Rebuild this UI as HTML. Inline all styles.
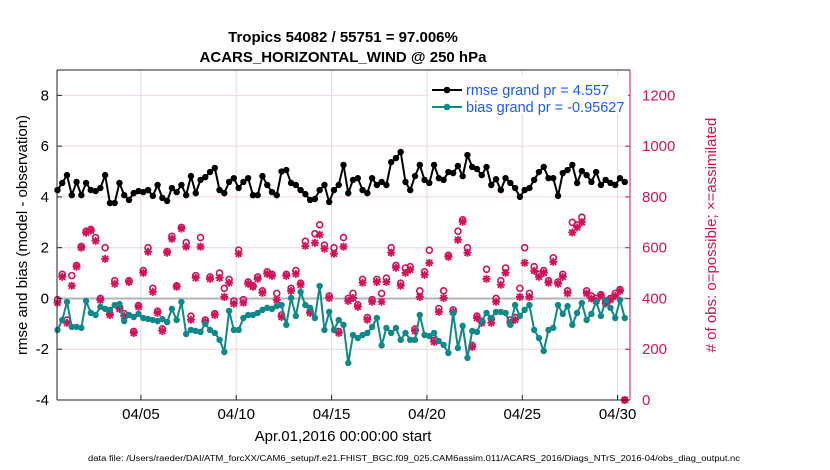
<!DOCTYPE html>
<html><head><meta charset="utf-8">
<style>
body{margin:0;background:#fff;}
svg{display:block;font-family:"Liberation Sans",sans-serif;}
</style></head>
<body>
<svg id="chart" width="830" height="470" xmlns="http://www.w3.org/2000/svg">
<rect width="830" height="470" fill="#fff"/>
<g id="grid"></g>
<g id="series"></g>
<g id="axes"></g>
<text x="343" y="42" text-anchor="middle" font-size="15" font-weight="bold">Tropics 54082 / 55751 = 97.006%</text>
<text x="343" y="62" text-anchor="middle" font-size="15" font-weight="bold">ACARS_HORIZONTAL_WIND @ 250 hPa</text>
<text transform="translate(27,235) rotate(-90)" text-anchor="middle" font-size="15">rmse and bias (model - observation)</text>
<text transform="translate(716,235) rotate(-90)" text-anchor="middle" font-size="15" fill="#d1125a"># of obs: o=possible; ×=assimilated</text>
<text x="343" y="441" text-anchor="middle" font-size="15">Apr.01,2016 00:00:00 start</text>
<text x="414" y="461" text-anchor="middle" font-size="8" textLength="652" lengthAdjust="spacingAndGlyphs">data file: /Users/raeder/DAI/ATM_forcXX/CAM6_setup/f.e21.FHIST_BGC.f09_025.CAM6assim.011/ACARS_2016/Diags_NTrS_2016-04/obs_diag_output.nc</text>
<g>
<rect x="428" y="76" width="200" height="38" fill="#fff"/>
<g>
<line x1="432" y1="90" x2="462" y2="90" stroke="#000" stroke-width="2"/>
<circle cx="447" cy="90" r="3.3" fill="#000"/>
<text x="466" y="95" font-size="14.5" fill="#1a5cff">rmse grand pr = 4.557</text>
</g>
<g>
<line x1="432" y1="107" x2="462" y2="107" stroke="#0e8888" stroke-width="2"/>
<circle cx="447" cy="107" r="3.3" fill="#0e8888"/>
<text x="466" y="112" font-size="14.5" fill="#1a5cff">bias grand pr = -0.95627</text>
</g>
</g>
</svg>
<script>
const xTickLabels = ["04/05","04/10","04/15","04/20","04/25","04/30"];
const xTickDays = [4,9,14,19,24,29];
const leftTicks = [-4,-2,0,2,4,6,8];
const rightTicks = [0,200,400,600,800,1000,1200];
const rmse = [4.27,4.55,4.86,4.07,4.59,4.07,4.55,4.27,4.23,4.35,4.86,3.76,3.76,4.55,4.07,3.88,4.15,4.23,4.19,4.27,4.04,4.47,3.96,3.84,4.35,4.19,4.47,4.07,4.82,4.15,4.67,4.78,4.98,5.14,4.27,4.15,4.59,4.74,4.35,
4.59,4.74,4.07,4.07,4.82,4.47,4.19,4.07,5.00,5.06,4.55,4.47,4.27,4.11,3.88,3.92,4.27,4.47,3.80,4.27,4.47,5.26,4.15,4.67,4.74,4.27,4.15,4.74,4.47,4.59,4.47,5.37,5.53,5.77,4.59,4.27,4.82,5.26,4.67,
4.55,5.26,4.74,4.67,4.98,4.94,5.22,4.82,5.65,5.18,5.10,4.86,5.18,4.47,4.70,4.27,4.74,4.55,4.35,4.00,4.27,4.35,4.67,4.98,5.18,4.74,4.74,4.04,4.94,5.06,5.26,4.55,5.02,4.86,4.59,4.98,4.47,4.67,4.55,4.47,4.74,4.59];
const bias = [-1.24,-0.85,-0.14,-1.12,-1.12,-1.16,-0.10,-0.57,-0.65,-0.33,-0.41,-0.45,-0.26,-0.22,-0.89,-0.65,-0.73,-0.61,-0.77,-0.81,-0.85,-0.89,-0.81,-0.93,-0.41,-0.85,-0.14,-1.40,-1.24,-1.28,-1.32,-1.00,-1.24,-1.36,-1.63,-2.11,-0.49,-1.24,-1.24,-0.77,
-0.65,-0.65,-0.57,-0.45,-0.37,-0.41,-0.30,-0.26,-1.04,0.02,-0.69,0.26,-0.26,-0.37,-0.77,0.49,-1.24,-0.53,-1.24,-0.85,-1.04,-2.54,-1.44,-1.56,-1.44,-1.36,-1.12,-0.77,-1.85,-1.16,-1.36,-1.16,-1.63,-1.36,-1.63,-1.63,-0.65,-1.44,
-1.48,-1.36,-1.68,-1.83,-2.15,-0.57,-1.95,-1.08,-2.34,-1.28,-1.32,-0.89,-0.57,-0.77,-0.53,-0.53,-0.57,-1.04,-0.26,-0.69,-0.45,-0.26,-1.24,-1.56,-2.07,-1.24,-1.16,-0.26,-0.61,-0.30,-1.04,-0.57,-0.18,-0.85,-0.61,-0.14,-0.69,-0.06,-0.37,-0.77,-0.06,-0.77];
const assimilated = [383,485,304,450,525,600,659,667,627,394,556,335,458,359,331,465,264,367,501,584,426,343,272,580,635,446,675,604,316,481,
604,308,477,335,481,406,462,379,576,383,458,446,477,422,497,489,394,327,489,430,497,454,607,343,619,651,596,402,576,264,604,390,402,367,462,316,387,465,
387,465,580,521,450,501,513,272,406,493,540,229,347,402,564,347,631,702,580,209,323,304,477,304,387,454,501,304,316,406,540,406,509,485,501,462,544,458,
485,420,660,680,700,420,400,390,410,380,395,410,430,0];
const possible = [395,495,315,490,530,605,665,672,640,400,600,340,470,365,340,470,270,372,510,600,440,350,280,585,645,450,680,620,330,490,
640,315,485,340,500,440,475,390,590,395,465,450,485,430,505,495,420,335,495,440,510,460,625,350,655,690,610,410,600,270,640,400,420,375,475,325,395,475,
420,480,600,530,460,520,525,280,430,505,590,235,360,430,570,355,665,710,600,215,330,310,515,320,400,470,520,315,325,440,600,420,525,495,510,470,560,465,
495,430,700,690,720,430,410,400,415,390,400,420,435,0];
const times = rmse.map((_, i) => -0.375 + i * 0.25);

const L=57,R=630,T=70,B=400;
const xs = d => L + (d - (-0.4)) / (29.65 - (-0.4)) * (R - L);
const yl = v => B - (v - (-4)) / (9 - (-4)) * (B - T);
const yr = c => B - c / 1300 * (B - T);
const NS="http://www.w3.org/2000/svg";
function mk(tag, attrs, parent){const e=document.createElementNS(NS,tag);for(const k in attrs)e.setAttribute(k,attrs[k]);parent.appendChild(e);return e;}
const gridG=document.getElementById('grid'), seriesG=document.getElementById('series'), axesG=document.getElementById('axes');

xTickDays.forEach((d,i)=>{
  const g=mk('line',{x1:xs(d),x2:xs(d),y1:T,y2:B,stroke:'#dcdcdc','stroke-width':1},gridG);
  
  
  const t=mk('line',{x1:xs(d),x2:xs(d),y1:B,y2:B-5,stroke:'#222','stroke-width':1},axesG);
  
  
  const lab=mk('text',{x:xs(d),y:B+19,'text-anchor':'middle','font-size':15},axesG);
  lab.textContent=xTickLabels[i];
  
  
});
leftTicks.forEach(v=>{
  if(v!==0 && v!==-4){
    const g=mk('line',{x1:L,x2:R,y1:yl(v),y2:yl(v),stroke:'#f3d3de','stroke-width':1},gridG);
    
    
  }
  const t=mk('line',{x1:L,x2:L+5,y1:yl(v),y2:yl(v),stroke:'#222'},axesG);
  
  
  const lab=mk('text',{x:L-8,y:yl(v)+5,'text-anchor':'end','font-size':15},axesG);
  lab.textContent=v;
  
  
});
rightTicks.forEach(c=>{
  const t=mk('line',{x1:R,x2:R-5,y1:yr(c),y2:yr(c),stroke:'#d1125a'},axesG);
  
  
  const lab=mk('text',{x:R+12,y:yr(c)+5,'font-size':15,fill:'#d1125a'},axesG);
  lab.textContent=c;
  
  
});
const zeroLine=mk('line',{x1:L,x2:R,y1:yl(0),y2:yl(0),stroke:'#b4b4b4','stroke-width':2},gridG);



const leftAxis=mk('line',{x1:L,x2:L,y1:T,y2:B,stroke:'#222'},axesG);


const topBorder=mk('line',{x1:L,x2:R,y1:T,y2:T,stroke:'#222'},axesG);


const bottomAxis=mk('line',{x1:L,x2:R,y1:B,y2:B,stroke:'#222'},axesG);


const rightAxis=mk('line',{x1:R,x2:R,y1:T,y2:B,stroke:'#d1125a'},axesG);



times.forEach((d,i)=>{
  const x=xs(d);
  const c=mk('circle',{cx:x,cy:yr(possible[i]),r:3,fill:'none',stroke:'#d1125a','stroke-width':1.6},seriesG);
  
  
  const y=yr(assimilated[i]);
  const s=mk('path',{d:`M${x-4},${y}H${x+4}M${x},${y-4}V${y+4}M${x-3},${y-3}L${x+3},${y+3}M${x-3},${y+3}L${x+3},${y-3}`,stroke:'#d1125a','stroke-width':1.8},seriesG);
  
  
});
function drawLine(vals,color,name){
  const p=mk('polyline',{points:vals.map((v,i)=>xs(times[i])+','+yl(v)).join(' '),fill:'none',stroke:color,'stroke-width':2},seriesG);
  
  
  vals.forEach((v,i)=>{
    const c=mk('circle',{cx:xs(times[i]),cy:yl(v),r:3.2,fill:color},seriesG);
    
    
  });
}
drawLine(rmse,'#000','rmse');
drawLine(bias,'#0e8888','bias');
</script>
</body></html>
